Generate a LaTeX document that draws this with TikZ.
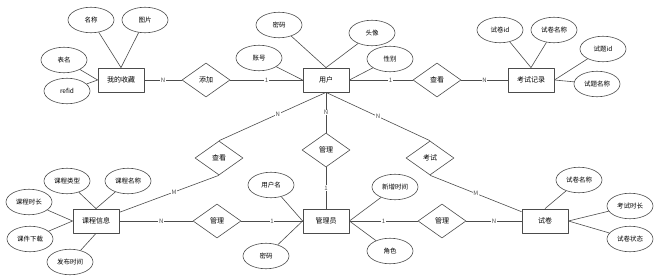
\documentclass[tikz,border=0pt]{standalone}
\usepackage{fontspec}
\setmainfont{Noto Sans CJK SC}
\usepackage{xcolor}
\usetikzlibrary{shapes.geometric,calc}
\definecolor{erline}{gray}{0.30}

\begin{document}
\begin{tikzpicture}[x=1pt,y=-1pt,line join=round,
    entity/.style={draw=erline,line width=0.8pt,minimum width=46pt,minimum height=24pt,inner sep=0pt,font=\fontsize{7}{8}\selectfont},
    attr/.style={draw=erline,line width=0.6pt,ellipse,minimum width=46pt,minimum height=25.5pt,inner sep=0pt,font=\fontsize{6.5}{8}\selectfont},
    rel/.style={draw=erline,line width=0.6pt,diamond,minimum width=48pt,minimum height=34pt,inner sep=0pt,font=\fontsize{7}{8}\selectfont},
    link/.style={draw=erline,line width=0.6pt},
    card/.style={fill=white,inner sep=0.6pt,text=erline,font=\fontsize{6}{7}\selectfont}]
    \useasboundingbox (0,0) rectangle (669,278);
    % ============ Entities ============
    \node[entity] (fav)    at (121,80)  {我的收藏};
    \node[entity] (user)   at (326,80)  {用户};
    \node[entity] (record) at (531,80)  {考试记录};
    \node[entity] (course) at (96,221)  {课程信息};
    \node[entity] (admin)  at (326,221) {管理员};
    \node[entity] (paper)  at (545,221) {试卷};
    % ============ Relationships ============
    \node[rel] (add)      at (206,80)  {添加};
    \node[rel] (viewrec)  at (437,80)  {查看};
    \node[rel] (viewcrs)  at (219,158) {查看};
    \node[rel] (manusr)   at (326,150) {管理};
    \node[rel] (exam)     at (430,158) {考试};
    \node[rel] (mancrs)   at (217,221) {管理};
    \node[rel] (manpaper) at (442,221) {管理};
    % ============ Attributes: 我的收藏 ============
    \node[attr] (favname) at (91,20)  {名称};
    \node[attr] (favpic)  at (145,20) {图片};
    \node[attr] (favtab)  at (64,60)  {表名};
    \node[attr] (favref)  at (67,91)  {refid};
    \draw[link] (favname) -- (fav.north);
    \draw[link] (favpic) -- (fav.north);
    \draw[link] (favtab) -- (fav.west);
    \draw[link] (favref) -- (fav.west);
    % ============ Attributes: 用户 ============
    \node[attr] (usrpwd)    at (279,25) {密码};
    \node[attr] (usravatar) at (372,33) {头像};
    \node[attr] (usracc)    at (259,58) {账号};
    \node[attr] (usrsex)    at (390,59) {性别};
    \draw[link] (usrpwd) -- (user.north);
    \draw[link] (usravatar) -- (user.north);
    \draw[link] (usracc) -- (user.west);
    \draw[link] (usrsex) -- (user.east);
    % ============ Attributes: 考试记录 ============
    \node[attr] (recpid)   at (500,30) {试卷id};
    \node[attr] (recpname) at (554,30) {试卷名称};
    \node[attr] (recqid)   at (603,49) {试题id};
    \node[attr] (recqname) at (597,84) {试题名称};
    \draw[link] (recpid) -- (record.north);
    \draw[link] (recpname) -- (record.north);
    \draw[link] (recqid) -- (record.east);
    \draw[link] (recqname) -- (record.east);
    % ============ Attributes: 课程信息 ============
    \node[attr] (crstype) at (67,181)  {课程类型};
    \node[attr] (crsname) at (128,181) {课程名称};
    \node[attr] (crslen)  at (29,202)  {课程时长};
    \node[attr] (crsdl)   at (30,239)  {课件下载};
    \node[attr] (crspub)  at (70,262)  {发布时间};
    \draw[link] (crstype) -- (course.north);
    \draw[link] (crsname) -- (course.north);
    \draw[link] (crslen) -- (course.west);
    \draw[link] (crsdl) -- (course.west);
    \draw[link] (crspub) -- (course.south);
    % ============ Attributes: 管理员 ============
    \node[attr] (admname) at (271,185) {用户名};
    \node[attr] (admpwd)  at (266,256) {密码};
    \node[attr] (admnew)  at (395,187) {新增时间};
    \node[attr] (admrole) at (390,251) {角色};
    \draw[link] (admname) -- (admin.west);
    \draw[link] (admpwd) -- (admin.west);
    \draw[link] (admnew) -- (admin.east);
    \draw[link] (admrole) -- (admin.east);
    % ============ Attributes: 试卷 ============
    \node[attr] (ppname)   at (579,180) {试卷名称};
    \node[attr] (pplen)    at (630,206) {考试时长};
    \node[attr] (ppstate)  at (630,239) {试卷状态};
    \draw[link] (ppname) -- (paper.north);
    \draw[link] (pplen) -- (paper.east);
    \draw[link] (ppstate) -- (paper.east);
    % ============ Connectors with cardinalities ============
    \draw[link] (fav) -- node[card] {N} (add);
    \draw[link] (add) -- node[card] {1} (user);
    \draw[link] (user) -- node[card,pos=0.65] {1} (viewrec);
    \draw[link] (viewrec) -- node[card] {N} (record);
    \draw[link] (user.south) -- node[card,pos=0.45] {N} (viewcrs.north);
    \draw[link] (user.south) -- node[card] {N} (manusr.north);
    \draw[link] (user.south) -- node[card] {N} (exam.north);
    \draw[link] (viewcrs.south) -- node[card,pos=0.45] {M} (course);
    \draw[link] (exam.south) -- node[card] {M} (paper);
    \draw[link] (manusr.south) -- node[card] {1} (admin.north);
    \draw[link] (course) -- node[card,pos=0.57] {N} (mancrs);
    \draw[link] (mancrs) -- node[card] {1} (admin);
    \draw[link] (admin) -- node[card] {1} (manpaper);
    \draw[link] (manpaper) -- node[card] {N} (paper);
\end{tikzpicture}
\end{document}
